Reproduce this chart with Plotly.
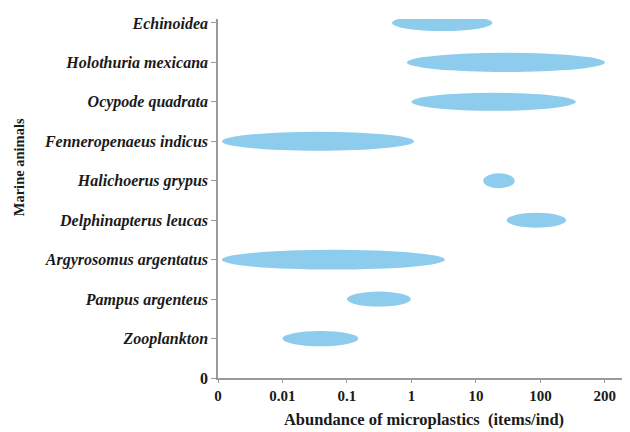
import math
import plotly.graph_objects as go

# ---- data ----
species = ["Zooplankton", "Pampus argenteus", "Argyrosomus argentatus",
           "Delphinapterus leucas", "Halichoerus grypus", "Fenneropenaeus indicus",
           "Ocypode quadrata", "Holothuria mexicana", "Echinoidea"]
abund_low = [0.01, 0.1, 0.0006, 30, 13, 0.0006, 1.0, 0.85, 0.5]
abund_high = [0.15, 0.98, 3.3, 140, 40, 1.1, 155, 200, 18]
x_ticks = [0, 0.01, 0.1, 1, 10, 100, 200]
x_tick_labels = ["0", "0.01", "0.1", "1", "10", "100", "200"]


# piecewise axis scale used by the original figure (0 | log decades | 100-200 linear)
def scale(v):
    if v <= 0.01:
        return v / 0.01
    if v <= 100:
        return math.log10(v) + 3
    return 5 + (v - 100) / 100


FONT = "Liberation Serif, Times New Roman, serif"
FILL = "rgb(141,204,236)"

fig = go.Figure()

ypos = list(range(1, len(species) + 1))
fig.add_trace(go.Scatter(
    x=[(scale(a) + scale(b)) / 2 for a, b in zip(abund_low, abund_high)],
    y=ypos, mode="markers", marker=dict(size=1, color="rgba(0,0,0,0)"),
    text=[f"{s}: {a}–{b}" for s, a, b in zip(species, abund_low, abund_high)],
    hoverinfo="text", showlegend=False))

for i, (a, b) in enumerate(zip(abund_low, abund_high)):
    x0, x1 = scale(a), scale(b)
    w = x1 - x0
    h = 0.38 + min(0.05 * max(0.0, w - 1.0), 0.14)
    fig.add_shape(type="circle", xref="x", yref="y",
                  x0=x0, x1=x1, y0=ypos[i] - h / 2, y1=ypos[i] + h / 2,
                  fillcolor=FILL, line=dict(width=0), layer="above")

ticktext_y = ["<b>0</b>"] + [f"<b><i>{s}</i></b>" for s in species]

# y-axis title placed as an annotation (it sits above the plot-area centre in the original)
fig.add_annotation(text="<b>Marine animals</b>", textangle=-90,
                   xref="paper", yref="paper", x=-0.483, y=0.587,
                   xanchor="center", yanchor="middle", showarrow=False,
                   font=dict(family=FONT, size=14.5, color="#1a1a1a"))

# page body has an 8px margin, so the figure is sized to fit the window
fig.update_layout(
    width=622, height=424,
    margin=dict(l=210, r=0, t=10.5, b=54),
    plot_bgcolor="white", paper_bgcolor="white",
    font=dict(family=FONT, color="#1a1a1a"),
    xaxis=dict(
        range=[0, 6.39], showgrid=False, zeroline=False,
        showline=True, linecolor="#9a9a9a", linewidth=1.5,
        tickvals=[scale(v) for v in x_ticks],
        ticktext=[f"<b>{t}</b>" for t in x_tick_labels],
        ticks="outside", ticklen=3, tickcolor="#9a9a9a",
        tickfont=dict(family=FONT, size=15),
        title=dict(text="<b>Abundance of microplastics  (items/ind)</b>",
                   font=dict(family=FONT, size=16.5), standoff=11),
    ),
    yaxis=dict(
        range=[0, 9.1], showgrid=False, zeroline=False,
        showline=True, linecolor="#9a9a9a", linewidth=1.5,
        tickvals=[0] + ypos, ticktext=ticktext_y,
        ticks="outside", ticklen=5, tickcolor="#9a9a9a",
        tickfont=dict(family=FONT, size=16),
    ),
)

fig.write_html("out.html")
